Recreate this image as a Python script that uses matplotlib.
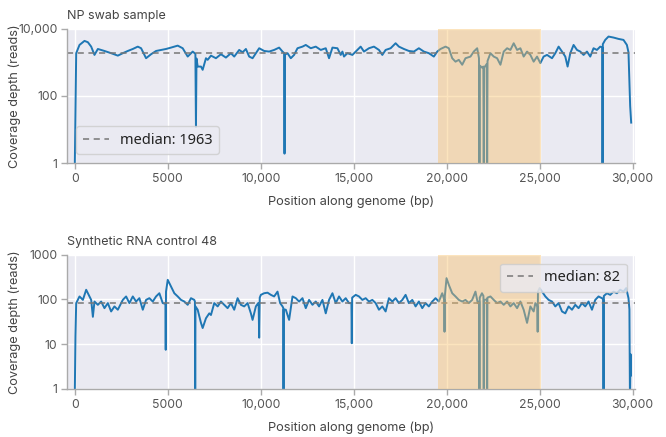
import numpy as np
import matplotlib
matplotlib.use("Agg")
import matplotlib.pyplot as plt

# coverage traces (position in bp, depth in reads)
np_pos = [0, 40, 80, 258, 526, 708, 886, 1063, 1245, 1600, 1959, 2319, 2587, 2855, 3124, 3392,
          3570, 3838, 4106, 4375, 4643, 4911, 5180, 5539, 5807, 6076, 6345, 6490, 6520, 6550,
          6613, 6790, 6881, 7058, 7150, 7327, 7595, 7863, 8132, 8400, 8578, 8846, 9029, 9206,
          9383, 9565, 9742, 9920, 10188, 10456, 10725, 10993, 11175, 11260, 11283, 11306, 11444,
          11621, 11798, 11981, 12249, 12426, 12695, 12963, 13231, 13500, 13677, 13860, 14128,
          14305, 14396, 14482, 14665, 14933, 15201, 15378, 15556, 15824, 16092, 16361, 16543,
          16720, 16989, 17257, 17434, 17703, 17971, 18239, 18508, 18776, 19044, 19313, 19496,
          19673, 19941, 20118, 20301, 20478, 20655, 20838, 21015, 21283, 21460, 21643, 21740,
          21766, 21790, 21900, 21975, 21997, 22020, 22160, 22180, 22200, 22357, 22534, 22716,
          22894, 23071, 23253, 23430, 23607, 23790, 23967, 24144, 24326, 24504, 24681, 24863,
          25040, 25217, 25400, 25668, 25845, 26022, 26205, 26382, 26506, 26651, 26828, 27011,
          27188, 27365, 27547, 27724, 27901, 28084, 28261, 28370, 28384, 28400, 28529, 28706,
          28975, 29243, 29511, 29694, 29780, 29870, 29925]
np_depth = [0.5, 40, 1880, 3310, 4370, 3990, 2950, 1670, 2510, 2190, 1880, 1590, 1880, 2190, 2510, 2950,
            2640, 1330, 1750, 2190, 2350, 2510, 2760, 3160, 2640, 1490, 2100, 1800, 12, 1300,
            750, 750, 600, 1330, 1190, 1590, 1330, 1750, 1390, 1880, 1490, 2350, 2000, 2510,
            1490, 1330, 1880, 2640, 2190, 2100, 2350, 2760, 2100, 1900, 1.9, 1700, 1880,
            1330, 1670, 2640, 2950, 3310, 2640, 2950, 2350, 2640, 1330, 2760, 2640,
            1670, 2100, 1490, 1880, 1670, 2350, 2950, 2100, 2640, 2950, 2350, 1670,
            2350, 2640, 3720, 2950, 2510, 2190, 2100, 2640, 2100, 1880, 1490, 2100,
            2510, 2950, 2640, 1330, 1050, 1190, 850, 1330, 1490, 2100, 2640, 1330,
            0.5, 800, 700, 750, 0.5, 700, 900, 0.5, 1100, 1880, 1490, 1330,
            850, 2100, 2640, 2350, 3720, 2350, 2640, 1490, 2100, 1670, 1050, 1490,
            950, 1490, 1670, 1330, 1880, 2950, 2100, 1490, 750, 1880, 3310, 2350,
            2100, 1670, 2100, 1490, 2640, 2350, 2950, 2800, 0.5, 3500, 4680, 5890,
            5500, 5010, 4680, 3310, 2000, 50, 16]

ctl_pos = [0, 40, 80, 258, 440, 617, 708, 886, 977, 1063, 1245, 1422, 1600, 1782, 1959, 2136,
           2319, 2587, 2764, 2941, 3124, 3301, 3478, 3661, 3838, 4015, 4198, 4375, 4552, 4734,
           4880, 4895, 4910, 5003, 5180, 5357, 5539, 5717, 5894, 6076, 6253, 6431, 6465, 6480,
           6495, 6613, 6790, 6881, 7058, 7236, 7327, 7505, 7687, 7863, 8041, 8223, 8400, 8578,
           8760, 8937, 9114, 9297, 9474, 9565, 9742, 9866, 9890, 9920, 9950, 10011, 10188,
           10370, 10548, 10725, 10907, 11047, 11175, 11215, 11229, 11243, 11353, 11530, 11712,
           11890, 12067, 12249, 12426, 12603, 12786, 12963, 13140, 13323, 13500, 13677, 13860,
           14037, 14214, 14396, 14573, 14750, 14880, 14900, 14920, 15110, 15287, 15470, 15647,
           15824, 16006, 16184, 16361, 16543, 16720, 16898, 17080, 17257, 17434, 17617, 17794,
           17971, 18154, 18331, 18508, 18690, 18867, 19044, 19227, 19404, 19581, 19764, 19870,
           19887, 19905, 19995, 20118, 20301, 20478, 20655, 20838, 21015, 21192, 21374, 21551,
           21675, 21750, 21766, 21780, 21900, 21980, 21997, 22015, 22165, 22180, 22195, 22357,
           22534, 22716, 22894, 23071, 23253, 23430, 23607, 23790, 23967, 24144, 24326, 24504,
           24681, 24772, 24880, 24896, 24912, 25003, 25131, 25309, 25486, 25668, 25845, 26022,
           26205, 26382, 26559, 26742, 26919, 27096, 27279, 27456, 27633, 27816, 27993, 28170,
           28352, 28420, 28438, 28455, 28620, 28798, 28975, 29157, 29334, 29511, 29657, 29780,
           29830, 29860, 29890, 29915]
ctl_depth = [0.5, 15, 83, 117, 98, 165, 138, 98, 41, 90, 76, 90, 64, 83, 54, 70,
             59, 98, 117, 83, 117, 90, 107, 59, 98, 107, 90, 117, 138, 83,
             80, 7.5, 150, 275, 195, 138, 117, 98, 90, 76, 107, 98, 90, 0.5,
             70, 59, 30, 23, 38, 49, 45, 83, 70, 90, 76, 64, 83, 59,
             107, 76, 70, 83, 49, 35, 70, 83, 80, 14, 110, 127, 138,
             142, 127, 117, 150, 83, 70, 65, 0.5, 60, 59, 35, 117,
             107, 90, 107, 64, 98, 76, 90, 70, 98, 49, 98, 138,
             83, 117, 90, 107, 83, 83, 10.5, 110, 127, 117, 98, 107,
             90, 98, 83, 59, 70, 54, 107, 90, 107, 83, 98, 127,
             83, 98, 70, 90, 64, 83, 70, 90, 107, 90, 138, 100,
             19, 120, 300, 213, 138, 117, 98, 90, 98, 83, 98, 150,
             83, 90, 0.5, 110, 138, 120, 0.5, 98, 100, 0.5, 110, 117,
             98, 83, 90, 76, 90, 70, 83, 64, 90, 59, 30, 70,
             54, 83, 70, 19, 150, 180, 150, 117, 98, 90, 70, 83,
             54, 49, 70, 59, 76, 64, 83, 70, 90, 59, 98, 117,
             107, 100, 0.5, 120, 138, 127, 150, 138, 165, 150, 180, 107,
             60, 0.5, 6, 2]

titles = ["NP swab sample", "Synthetic RNA control 48"]
medians = [1963, 82]
ylims = [(1, 10000), (1, 1000)]
yticks = [[1, 100, 10000], [1, 10, 100, 1000]]
yticklabels = [["1", "100", "10,000"], ["1", "10", "100", "1000"]]
xticks = [0, 5000, 10000, 15000, 20000, 25000, 30000]
xticklabels = ["0", "5000", "10,000", "15,000", "20,000", "25,000", "30,000"]
highlight = (19550, 25050)

plt.rcParams['font.family'] = ['Inter', 'DejaVu Sans']
txt = '#444444'

fig = plt.figure(figsize=(6.66, 4.37), dpi=100)
ax1 = fig.add_axes([0.101, 0.627, 0.853, 0.307])
ax2 = fig.add_axes([0.101, 0.110, 0.853, 0.307])

data = [(np_pos, np_depth), (ctl_pos, ctl_depth)]
locs = ['lower left', 'upper right']

for i, ax in enumerate([ax1, ax2]):
    pos, depth = data[i]
    ax.set_facecolor('#EAEAF2')
    ax.grid(True, color='white', linewidth=1.0, zorder=0)
    ax.set_axisbelow(True)
    ax.plot(pos, depth, color='#1f77b4', linewidth=1.4, zorder=2)
    ax.axhline(medians[i], color='#777777', linestyle='--', linewidth=1.1,
               dashes=(4, 3), zorder=2.5, label='median: %d' % medians[i])
    ax.axvspan(highlight[0], highlight[1], color='#F9BF64', alpha=0.42, lw=0, zorder=3)
    ax.set_yscale('log')
    ax.set_ylim(*ylims[i])
    ax.set_xlim(-400, 30150)
    ax.set_yticks(yticks[i])
    ax.set_yticklabels(yticklabels[i])
    ax.minorticks_off()
    ax.set_xticks(xticks)
    ax.set_xticklabels(xticklabels)
    for s in ['top', 'right']:
        ax.spines[s].set_visible(False)
    for s in ['left', 'bottom']:
        ax.spines[s].set_color('#aaaaaa')
        ax.spines[s].set_linewidth(1.0)
    ax.tick_params(colors='#aaaaaa', labelcolor='#555555', labelsize=8.8, length=4, width=1, pad=3)
    ax.set_title(titles[i], loc='left', fontsize=9, color=txt, pad=7)
    ax.set_xlabel('Position along genome (bp)', fontsize=9.2, color=txt, labelpad=8)
    ax.set_ylabel('Coverage depth (reads)', fontsize=9.2, color=txt)
    ax.yaxis.set_label_coords(-0.082, 0.5)
    leg = ax.legend(loc=locs[i], prop={'family': 'Noto Sans', 'size': 10.5},
                    facecolor='#EAEAF2', edgecolor='#cccccc', framealpha=0.8,
                    handlelength=1.8, handletextpad=0.75, borderaxespad=0.6,
                    borderpad=0.45)
    leg.get_frame().set_linewidth(1.0)
    for t in leg.get_texts():
        t.set_color('#222222')

fig.savefig('out.png', dpi=100)
